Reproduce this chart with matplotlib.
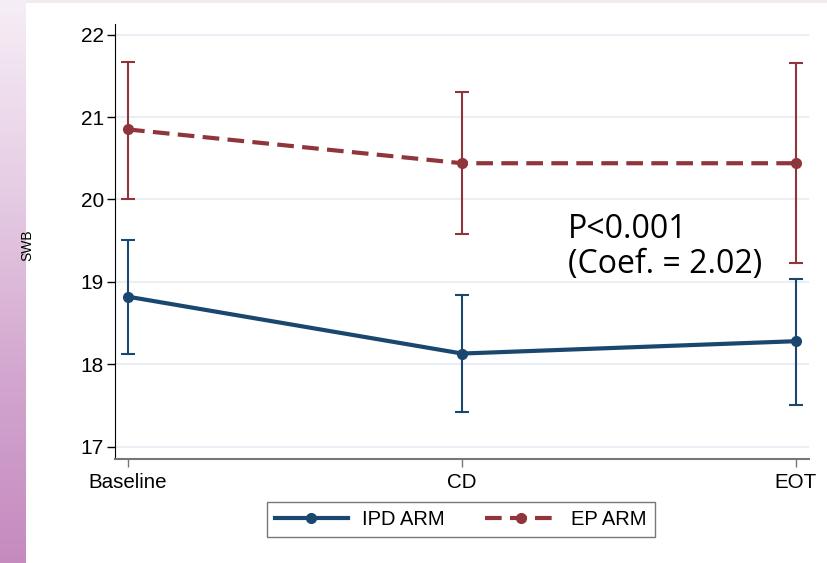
import numpy as np
import matplotlib.pyplot as plt
from matplotlib.lines import Line2D

# timepoints and group means with 95% CI
timepoints = ["Baseline", "CD", "EOT"]
ipd_mean = [18.82, 18.13, 18.28]
ipd_low = [18.13, 17.42, 17.51]
ipd_high = [19.51, 18.84, 19.04]
ep_mean = [20.85, 20.44, 20.44]
ep_low = [20.01, 19.58, 19.23]
ep_high = [21.67, 21.30, 21.66]
yticks = [17, 18, 19, 20, 21, 22]

navy = "#1a476f"
maroon = "#90353b"

plt.rcParams['font.family'] = ['Liberation Sans', 'DejaVu Sans']

fig = plt.figure(figsize=(8.27, 5.63), dpi=100)

# slide background: purple strip on the left, thin band on top
bg = fig.add_axes([0, 0, 26 / 827, 1])
grad = np.linspace(0, 1, 256)[:, None]
cmap = plt.matplotlib.colors.LinearSegmentedColormap.from_list(
    "slide", ["#f6eef6", "#e6cde4", "#d3a6cf", "#c58bbf"])
bg.imshow(grad, aspect="auto", cmap=cmap, extent=[0, 1, 1, 0])
bg.set_axis_off()
top = fig.add_axes([26 / 827, 1 - 3 / 563, 1 - 26 / 827, 3 / 563])
top.set_facecolor("#f1eaf1")
top.set_xticks([])
top.set_yticks([])
for s in top.spines.values():
    s.set_visible(False)

ax = fig.add_axes([115 / 827, 104 / 563, 694 / 827, 435 / 563])
x = np.arange(len(timepoints))

ax.errorbar(x, ipd_mean,
            yerr=[np.subtract(ipd_mean, ipd_low), np.subtract(ipd_high, ipd_mean)],
            fmt="none", ecolor=navy, elinewidth=1.5, capsize=5, capthick=1.5)
ax.errorbar(x, ep_mean,
            yerr=[np.subtract(ep_mean, ep_low), np.subtract(ep_high, ep_mean)],
            fmt="none", ecolor=maroon, elinewidth=1.5, capsize=5, capthick=1.5)
ax.plot(x, ipd_mean, color=navy, lw=3, marker="o", ms=7)
ax.plot(x, ep_mean, color=maroon, lw=3, ls=(0, (4, 2)), marker="o", ms=7)

ax.set_xlim(-0.039, 2.039)
ax.set_ylim(16.85, 22.13)
ax.set_xticks(x)
ax.set_xticklabels(timepoints, fontsize=14.8)
ax.set_yticks(yticks)
ax.set_yticklabels([str(t) for t in yticks], fontsize=15)
ax.grid(axis="y", color="#e9eff4", lw=1.5)
ax.set_axisbelow(True)
ax.tick_params(axis="y", length=6, width=1, color="black", pad=2)
ax.tick_params(axis="x", length=6, width=1, color="#777777", pad=4)
ax.spines["top"].set_visible(False)
ax.spines["right"].set_visible(False)
ax.spines["left"].set_color("black")
ax.spines["bottom"].set_color("#777777")
ax.spines["bottom"].set_linewidth(1.5)

fig.text(27 / 827, 1 - 245 / 563, "SWB", rotation=90, fontsize=10,
         ha="center", va="center")

ax.text(568 / 827, 1 - 213 / 563, "P<0.001\n(Coef. = 2.02)",
        transform=fig.transFigure, fontsize=23, family=["Open Sans", "DejaVu Sans"],
        ha="left", va="top", linespacing=1.1)

handles = [
    Line2D([], [], color=navy, lw=3, marker="o", ms=7),
    Line2D([], [], color=maroon, lw=3, ls=(0, (4, 2)), marker="o", ms=7),
]
fig.legend(handles, ["IPD ARM", "EP ARM"], loc="upper center",
           bbox_to_anchor=(461 / 827, 1 - 502 / 563), ncol=2, fontsize=14.5,
           frameon=True, fancybox=False, edgecolor="#555555", handlelength=3.6,
           handletextpad=0.7, columnspacing=2.0, borderpad=0.4, borderaxespad=0)

fig.savefig("out.png", dpi=100)
